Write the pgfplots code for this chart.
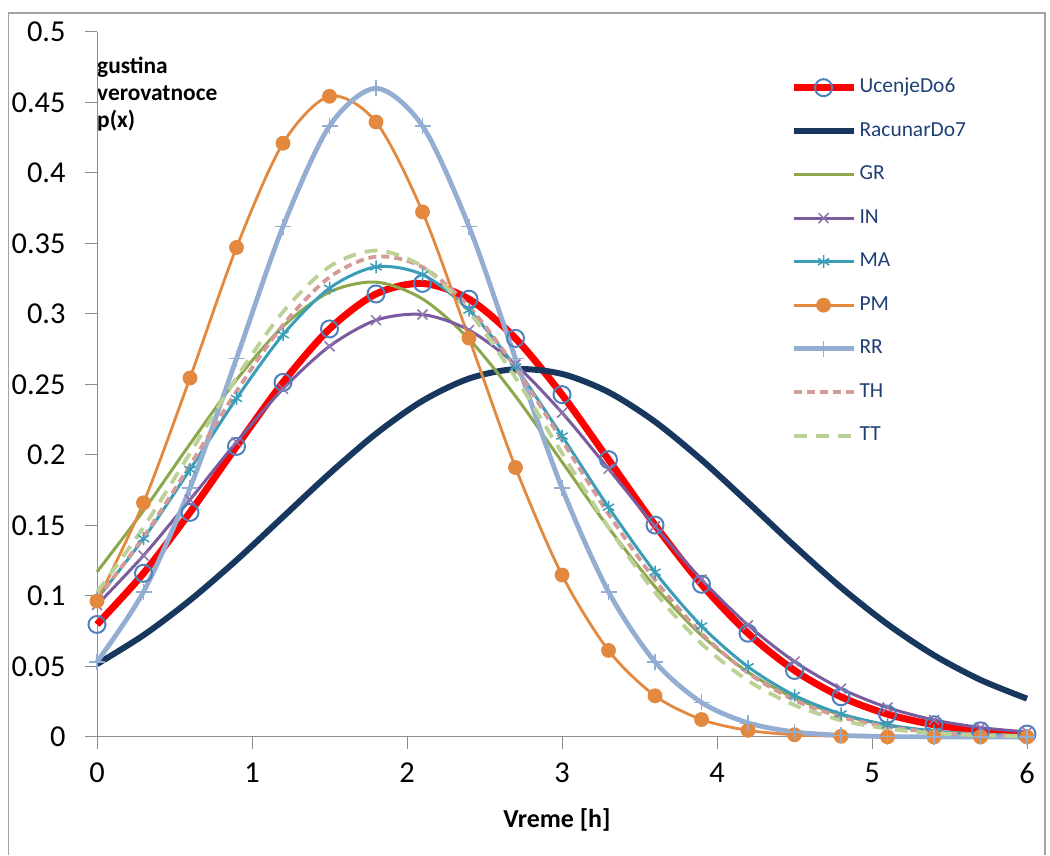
\documentclass[border=0pt]{standalone}
\usepackage{pgfplots}
\usepackage{pgfplotstable}
\pgfplotsset{compat=1.18}
\usepackage{fontspec}
\setmainfont{Carlito}
\definecolor{cRed}{HTML}{FF0000}
\definecolor{cCirc}{HTML}{4F81BD}
\definecolor{cNavy}{HTML}{17375E}
\definecolor{cGR}{HTML}{8DA84C}
\definecolor{cIN}{HTML}{7A5C9E}
\definecolor{cMA}{HTML}{3A9EB8}
\definecolor{cPM}{HTML}{E3883F}
\definecolor{cRR}{HTML}{94ADD3}
\definecolor{cTH}{HTML}{D49A98}
\definecolor{cTT}{HTML}{BBD195}
\definecolor{cLeg}{HTML}{1F3F77}
\definecolor{cAx}{HTML}{8C8C8C}
\pgfplotstableread{
x   U      R      GR     IN     MA     PM     RR     TH     TT
0.0 0.0798 0.0517 0.1171 0.0936 0.0980 0.0964 0.0533 0.0977 0.1026
0.3 0.1161 0.0722 0.1606 0.1287 0.1407 0.1661 0.1030 0.1418 0.1487
0.6 0.1593 0.0970 0.2078 0.1683 0.1897 0.2546 0.1765 0.1927 0.2013
0.9 0.2061 0.1254 0.2533 0.2091 0.2401 0.3472 0.2684 0.2452 0.2548
1.2 0.2515 0.1561 0.2912 0.2469 0.2853 0.4211 0.3620 0.2922 0.3015
1.5 0.2894 0.1868 0.3156 0.2771 0.3183 0.4544 0.4333 0.3261 0.3336
1.8 0.3142 0.2151 0.3226 0.2956 0.3334 0.4362 0.4600 0.3407 0.3450
2.1 0.3217 0.2384 0.3107 0.2996 0.3279 0.3724 0.4333 0.3333 0.3336
2.4 0.3105 0.2542 0.2822 0.2886 0.3027 0.2829 0.3620 0.3053 0.3015
2.7 0.2827 0.2609 0.2417 0.2642 0.2623 0.1911 0.2684 0.2619 0.2548
3.0 0.2428 0.2575 0.1951 0.2300 0.2134 0.1149 0.1765 0.2104 0.2013
3.3 0.1967 0.2446 0.1485 0.1902 0.1630 0.0614 0.1030 0.1582 0.1487
3.6 0.1503 0.2236 0.1066 0.1495 0.1169 0.0292 0.0533 0.1114 0.1026
3.9 0.1083 0.1966 0.0721 0.1117 0.0787 0.0124 0.0245 0.0735 0.0662
4.2 0.0736 0.1664 0.0460 0.0793 0.0498 0.0047 0.0100 0.0454 0.0400
4.5 0.0472 0.1355 0.0276 0.0535 0.0295 0.0016 0.0036 0.0262 0.0226
4.8 0.0285 0.1061 0.0157 0.0343 0.0164 0.0005 0.0012 0.0142 0.0119
5.1 0.0162 0.0800 0.0084 0.0209 0.0086 0.0001 0.0003 0.0072 0.0059
5.4 0.0087 0.0580 0.0042 0.0121 0.0042 0.0000 0.0001 0.0034 0.0027
5.7 0.0044 0.0405 0.0020 0.0067 0.0019 0.0000 0.0000 0.0015 0.0012
6.0 0.0021 0.0272 0.0009 0.0035 0.0008 0.0000 0.0000 0.0006 0.0005
}\datatable
\begin{document}
\begin{tikzpicture}[x=1bp,y=1bp]
\fill[white] (0,0) rectangle (1050,855);
\draw[cAx!80, line width=1.2bp] (8.5,0) -- (8.5,842) -- (1045,842) -- (1045,0);
\node[anchor=north west, inner sep=0pt, align=left, font=\fontsize{23.5}{27}\selectfont\bfseries] at (97,798) {gustina\\verovatnoce\\p(x)};
\begin{axis}[
  at={(97bp,118bp)}, anchor=south west,
  scale only axis, width=930bp, height=705bp,
  xmin=0, xmax=6, ymin=0, ymax=0.5,
  axis x line=bottom, axis y line=left,
  axis line style={-, cAx, line width=1bp},
  xtick={0,1,...,6}, ytick={0,0.05,...,0.5},
  tick align=outside, major tick length=12bp,
  tick style={cAx, line width=1bp},
  /pgf/number format/assume math mode=true,
  yticklabel style={/pgf/number format/fixed, /pgf/number format/precision=2, font=\fontsize{30.5}{35}\selectfont, xshift=-16bp},
  xticklabel style={font=\fontsize{30.5}{35}\selectfont, yshift=-10bp},
  xlabel={Vreme [h]},
  xlabel style={font=\fontsize{26}{30}\selectfont\bfseries, at={(axis description cs:0.4946,-0.1177)}, anchor=center},
  clip=false,
  legend cell align=left,
  legend image code/.code={\draw[mark repeat=2,mark phase=2] plot coordinates {(0bp,0bp) (30bp,0bp) (60bp,0bp)};},
  legend style={at={(rel axis cs:0.745,0.939)}, anchor=north west, draw=none, fill=none,
    font=\fontsize{21.5}{25}\selectfont, text=cLeg, row sep=18.5bp, inner sep=0pt,
    nodes={inner sep=2.5bp, text height=15bp, text depth=5bp}},
]
\addplot[cRed, line width=7bp, smooth, mark=o, mark size=8.5bp, mark options={cCirc, line width=2bp, solid}] table[x=x,y=U] {\datatable};
\addlegendentry{UcenjeDo6}
\addplot[cNavy, line width=6bp, smooth, no marks] table[x=x,y=R] {\datatable};
\addlegendentry{RacunarDo7}
\addplot[cGR, line width=3bp, smooth, no marks] table[x=x,y=GR] {\datatable};
\addlegendentry{GR}
\addplot[cIN, line width=3bp, smooth, mark=x, mark size=7bp, mark options={cIN!85!white, line width=1.5bp, solid}] table[x=x,y=IN] {\datatable};
\addlegendentry{IN}
\addplot[cMA, line width=3bp, smooth, mark=asterisk, mark size=6.5bp, mark options={cMA, line width=1.5bp, solid}] table[x=x,y=MA] {\datatable};
\addlegendentry{MA}
\addplot[cPM, line width=2.8bp, smooth, mark=*, mark size=6bp, mark options={cPM, fill=cPM, solid}] table[x=x,y=PM] {\datatable};
\addlegendentry{PM}
\addplot[cRR, line width=4.8bp, smooth, mark=+, mark size=8bp, mark options={cRR, line width=1.5bp, solid}] table[x=x,y=RR] {\datatable};
\addlegendentry{RR}
\addplot[cTH, line width=3.8bp, smooth, dash pattern=on 8bp off 5bp] table[x=x,y=TH] {\datatable};
\addlegendentry{TH}
\addplot[cTT, line width=3.8bp, smooth, dash pattern=on 13bp off 9bp] table[x=x,y=TT] {\datatable};
\addlegendentry{TT}
\end{axis}
\end{tikzpicture}
\end{document}
